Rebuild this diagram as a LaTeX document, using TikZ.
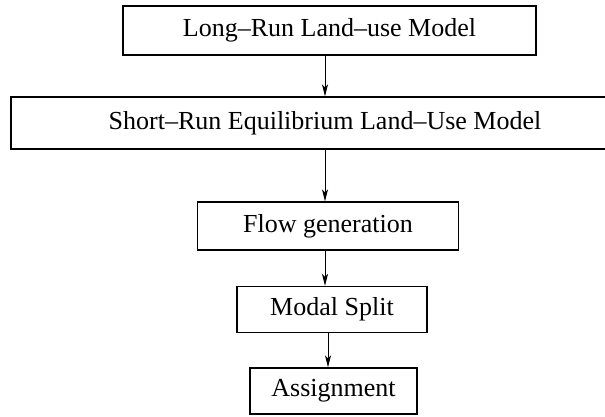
\documentclass[tikz,border=0pt]{standalone}
\usepackage{fontspec}
\setmainfont{Liberation Serif}
\usetikzlibrary{arrows.meta}
\begin{document}
\begin{tikzpicture}[x=1pt,y=-1pt,
  box/.style={draw=black,line width=1.2pt,rectangle,inner sep=0pt,font=\fontsize{26}{30}\selectfont},
  conn/.style={line width=1pt,-{Stealth[length=12pt,width=6pt,inset=3pt]}}]
\useasboundingbox (0,0) rectangle (605,416);
\clip (0,0) rectangle (605,416);
\node[box,minimum width=413pt,minimum height=49pt] (lr) at (329.5,30.5) {Long--Run Land--use Model};
\node[box,minimum width=628pt,minimum height=52pt] (sr) at (325,123) {Short--Run Equilibrium Land--Use Model};
\node[box,minimum width=261pt,minimum height=48pt] (fg) at (328,226) {Flow generation};
\node[box,minimum width=190pt,minimum height=46pt] (ms) at (332,309.5) {\raisebox{-2pt}{Modal Split}};
\node[box,minimum width=167pt,minimum height=46pt] (as) at (333.5,391) {Assignment};
\coordinate (a1) at (325,0);
\coordinate (a2) at (328,0);
\draw[conn] (lr.south -| a1) -- (sr.north -| a1);
\draw[conn] (sr.south -| a1) -- (fg.north -| a1);
\draw[conn] (fg.south -| a1) -- (ms.north -| a1);
\draw[conn] (ms.south -| a2) -- (as.north -| a2);
\end{tikzpicture}
\end{document}
